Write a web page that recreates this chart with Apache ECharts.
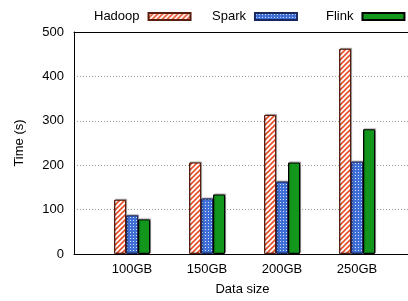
<!DOCTYPE html>
<html>
<head>
<meta charset="utf-8">
<script src="https://cdn.jsdelivr.net/npm/echarts@6/dist/echarts.min.js"></script>
<style>
  html, body { margin: 0; padding: 0; background: #fff; }
  #main { width: 408px; height: 301px; }
</style>
</head>
<body>
<div id="main"></div>
<script>
// 数据
var categories = ['100GB', '150GB', '200GB', '250GB'];
var hadoop = [122, 206, 313, 462];
var spark = [87, 125, 163, 208];
var flink = [78, 134, 206, 281];
var yTicks = [0, 100, 200, 300, 400, 500];

// 斜线填充 (Hadoop)
function stripePattern() {
    var c = document.createElement('canvas');
    c.width = 5; c.height = 5;
    var ctx = c.getContext('2d');
    ctx.fillStyle = '#ffffff';
    ctx.fillRect(0, 0, 5, 5);
    ctx.strokeStyle = '#e8502a';
    ctx.lineWidth = 1.6;
    ctx.beginPath();
    ctx.moveTo(-1, 6); ctx.lineTo(6, -1);
    ctx.moveTo(-1, 1); ctx.lineTo(1, -1);
    ctx.moveTo(4, 6); ctx.lineTo(6, 4);
    ctx.stroke();
    return c;
}
// 网点填充 (Spark)
function dotPattern() {
    var c = document.createElement('canvas');
    c.width = 3; c.height = 3;
    var ctx = c.getContext('2d');
    ctx.fillStyle = '#3f6fd6';
    ctx.fillRect(0, 0, 3, 3);
    ctx.fillStyle = '#d4e0f8';
    ctx.fillRect(1, 1, 1, 1);
    return c;
}

function pairs(arr) {
    return arr.map(function (v, i) { return [i, v]; });
}

var shadow = {
    shadowColor: 'rgba(0,0,0,0.35)',
    shadowOffsetX: 1,
    shadowOffsetY: -1,
    shadowBlur: 1
};

var myChart = echarts.init(document.getElementById('main'));
var font = 'Liberation Sans, Arial, sans-serif';

function legendAt(name, left) {
    return {
        data: [name],
        left: left,
        top: 5,
        align: 'right',
        icon: 'rect',
        itemWidth: 42,
        itemHeight: 7,
        itemGap: 0,
        textStyle: { fontFamily: font, fontSize: 13, color: '#000', padding: [0, 4, 0, 0] }
    };
}

// 每个类别 75px, 绘图区 74..418 (右边框在画面外)
var xMin = -0.7733, xMax = 3.813;

var option = {
    animation: false,
    textStyle: { fontFamily: font },
    legend: [legendAt('Hadoop', 89), legendAt('Spark', 207), legendAt('Flink', 321)],
    grid: {
        left: 74, right: -10, top: 32, bottom: 47,
        outerBoundsMode: 'none'
    },
    xAxis: [
        {
            type: 'value',
            min: xMin,
            max: xMax,
            name: 'Data size',
            nameLocation: 'middle',
            nameGap: 29,
            nameTextStyle: { fontFamily: font, fontSize: 13, color: '#000', padding: [0, 7, 0, 0] },
            axisLine: { show: true, onZero: false, lineStyle: { color: '#000', width: 1 } },
            axisTick: { show: false },
            splitLine: { show: false },
            axisLabel: {
                customValues: [0, 1, 2, 3],
                formatter: function (v) { return categories[Math.round(v)]; },
                fontFamily: font, fontSize: 13, color: '#000', margin: 9
            }
        },
        {
            // 上边框
            type: 'value', position: 'top',
            min: xMin, max: xMax,
            axisLine: { show: true, onZero: false, lineStyle: { color: '#000', width: 1 } },
            axisTick: { show: false },
            axisLabel: { show: false },
            splitLine: { show: false }
        }
    ],
    yAxis: {
        type: 'value',
        min: 0, max: 500, interval: 100,
        name: 'Time (s)',
        nameLocation: 'middle',
        nameGap: 48,
        nameTextStyle: { fontFamily: font, fontSize: 13, color: '#000' },
        axisLine: { show: true, onZero: false, lineStyle: { color: '#000', width: 1 } },
        axisTick: { show: false },
        axisLabel: {
            customValues: yTicks,
            fontFamily: font, fontSize: 13, color: '#000', margin: 10
        },
        splitLine: { show: true, lineStyle: { color: '#999', type: [1, 2], width: 1 } }
    },
    series: [
        {
            name: 'Hadoop', type: 'bar', barWidth: 12, barGap: '0%',
            data: pairs(hadoop),
            itemStyle: Object.assign({
                color: { image: stripePattern(), repeat: 'repeat' },
                borderColor: '#5a1c0c', borderWidth: 1
            }, shadow)
        },
        {
            name: 'Spark', type: 'bar', barWidth: 12, barGap: '0%',
            data: pairs(spark),
            itemStyle: Object.assign({
                color: { image: dotPattern(), repeat: 'repeat' },
                borderColor: '#1a2660', borderWidth: 1
            }, shadow)
        },
        {
            name: 'Flink', type: 'bar', barWidth: 12, barGap: '0%',
            data: pairs(flink),
            itemStyle: Object.assign({
                color: '#13961c',
                borderColor: '#000', borderWidth: 1
            }, shadow)
        }
    ]
};
myChart.setOption(option);
</script>
</body>
</html>
